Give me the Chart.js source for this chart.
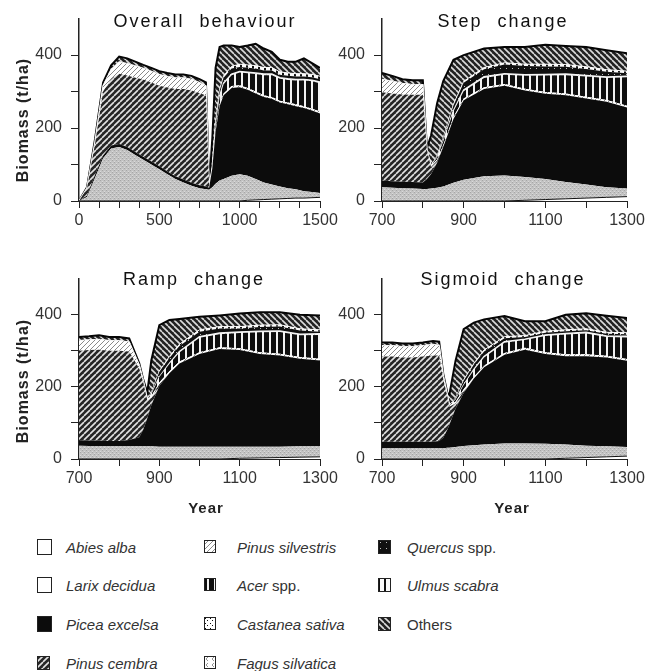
<!DOCTYPE html>
<html><head><meta charset="utf-8">
<script src="https://cdn.jsdelivr.net/npm/chart.js@4.4.1/dist/chart.umd.min.js"></script>
<style>
html,body{margin:0;padding:0;background:#fff;}
body{width:653px;height:671px;position:relative;overflow:hidden;font-family:"Liberation Sans",Arial,sans-serif;color:#222;}
canvas{position:absolute;}
.ttl{position:absolute;font-size:18px;letter-spacing:2px;word-spacing:8px;color:#111;transform:translate(-50%,-50%);white-space:nowrap;}
.ylab{position:absolute;font-size:16px;font-weight:bold;letter-spacing:1px;color:#222;transform:translate(-50%,-50%) rotate(-90deg);white-space:nowrap;}
.xlab{position:absolute;font-size:15px;font-weight:bold;letter-spacing:1px;color:#222;transform:translate(-50%,-50%);white-space:nowrap;}
.lg{position:absolute;font-size:15px;font-style:italic;color:#333;transform:translateY(-50%);white-space:nowrap;}
.lg .up{font-style:normal;}
</style></head>
<body>
<canvas id="c1" width="344" height="240" style="left:0;top:0"></canvas>
<canvas id="c2" width="323" height="240" style="left:330px;top:0"></canvas>
<canvas id="c3" width="344" height="240" style="left:0;top:260px"></canvas>
<canvas id="c4" width="323" height="240" style="left:330px;top:260px"></canvas>
<div class="ttl" style="left:205px;top:21px">Overall behaviour</div>
<div class="ttl" style="left:503px;top:21px">Step change</div>
<div class="ttl" style="left:194px;top:279px">Ramp change</div>
<div class="ttl" style="left:503px;top:279px">Sigmoid change</div>
<div class="ylab" style="left:23px;top:120px">Biomass (t/ha)</div>
<div class="ylab" style="left:23px;top:381px">Biomass (t/ha)</div>
<div class="xlab" style="left:206px;top:507px">Year</div>
<div class="xlab" style="left:512px;top:507px">Year</div>
<div id="legend"></div>
<script>
// ---------- tick lists ----------
const yTicks = [0,100,200,300,400];
const yLabels = [0,200,400];
const xTicks1 = [0,125,250,375,500,625,750,875,1000,1125,1250,1375,1500];
const xLabels1 = [0,500,1000,1500];
const xTicks2 = [700,800,900,1000,1100,1200,1300];
const xLabels2 = [700,900,1100,1300];

// ---------- Overall behaviour ----------
const p1Years = [0,50,100,150,200,250,300,350,400,450,500,550,600,650,700,750,790,810,830,850,875,900,950,1000,1050,1100,1150,1200,1250,1300,1350,1400,1450,1500];
const p1Abies = [0,0,0,0,0,0,0,0,0,0,0,0,0,0,0,0,0,0,0,0,0,0,0,0,2,3,4,5,6,7,8,8,9,10];
const p1Larix = [0,11,64,117,144,148,140,126,113,100,87,73,60,51,42,35,32,31,38,47,56,60,69,73,67,57,47,40,34,28,24,19,16,12];
const p1Picea = [0,4,8,8,8,8,8,8,8,8,8,8,8,8,8,8,8,5,52,143,204,230,241,239,236,235,234,235,230,230,228,228,223,218];
const p1Cembra = [0,20,85,175,183,193,196,204,212,217,221,230,239,248,253,253,249,2,0,0,0,0,0,0,0,0,0,0,0,0,0,0,0,0];
const p1Silvestris = [0,0,5,15,25,32,32,32,30,30,30,30,30,30,30,28,26,0,2,5,5,5,5,5,5,5,5,5,5,5,5,5,5,5];
const p1Acer = [0,0,0,0,0,0,0,0,0,0,0,0,0,0,0,0,0,0,0,10,20,25,30,35,40,48,55,60,60,62,65,70,75,78];
const p1Fagus = [0,0,0,0,0,0,0,0,0,0,0,0,0,0,0,0,0,0,0,0,2,3,3,3,3,3,3,3,3,3,3,3,3,3];
const p1Quercus = [0,0,0,0,0,0,0,0,0,0,0,0,0,0,0,0,0,0,0,10,15,15,15,12,12,12,10,10,8,8,8,8,8,8];
const p1Ulmus = [0,0,0,0,0,0,0,0,0,0,0,0,0,0,0,0,0,0,0,0,3,5,6,8,8,8,8,8,8,8,8,8,8,8];
const p1Others = [0,3,8,10,12,15,15,12,10,10,10,10,10,10,10,10,10,2,82,150,117,83,57,47,53,60,52,43,33,31,33,42,31,23];

// ---------- Step change ----------
const p2Years = [700,725,750,775,800,810,820,835,850,875,900,950,1000,1050,1100,1150,1200,1250,1300];
const p2Abies = [0,0,0,0,0,0,0,0,0,0,0,0,0,2,4,6,8,10,12];
const p2Larix = [38,36,35,34,33,33,34,36,40,50,58,68,70,64,56,46,37,28,22];
const p2Picea = [18,18,18,18,18,27,39,69,108,175,218,239,246,237,234,238,236,234,222];
const p2Cembra = [242,241,239,239,240,80,20,5,0,0,0,0,0,0,0,0,0,0,0];
const p2Silvestris = [35,33,30,28,28,0,3,4,5,5,5,5,5,5,5,5,5,5,5];
const p2Acer = [0,0,0,0,0,0,0,5,10,15,20,25,25,35,45,50,55,60,78];
const p2Fagus = [0,0,0,0,0,0,0,0,0,2,3,4,3,3,3,3,3,3,3];
const p2Quercus = [0,0,0,0,0,0,0,5,10,15,20,20,25,24,22,20,18,14,8];
const p2Ulmus = [0,0,0,0,0,0,0,0,0,3,4,5,5,5,6,6,6,6,6];
const p2Others = [18,15,12,12,12,5,83,144,156,122,72,52,43,47,53,51,54,53,49];

// ---------- Ramp change ----------
const p3Years = [700,725,750,775,800,825,850,860,870,880,900,925,950,1000,1050,1100,1150,1200,1250,1300];
const p3Abies = [0,0,0,0,0,0,0,0,0,0,0,0,0,0,0,2,3,4,5,6];
const p3Larix = [37,36,36,35,35,35,35,35,35,35,34,34,34,34,34,32,31,30,30,29];
const p3Picea = [15,15,15,15,15,18,25,47,78,114,168,204,231,257,271,268,257,253,243,238];
const p3Cembra = [248,251,252,250,250,245,190,130,50,20,5,0,0,0,0,0,0,0,0,0];
const p3Silvestris = [28,28,28,28,28,26,10,5,4,5,5,5,5,5,5,5,5,5,5,5];
const p3Acer = [0,0,0,0,0,0,0,0,0,5,15,20,25,40,36,42,55,60,60,66];
const p3Fagus = [0,0,0,0,0,0,0,0,0,0,0,2,3,3,3,3,3,3,3,3];
const p3Quercus = [0,0,0,0,0,0,0,0,0,5,15,15,15,14,13,10,12,12,10,6];
const p3Ulmus = [0,0,0,0,0,0,0,0,0,0,2,4,5,5,5,5,5,5,5,5];
const p3Others = [10,10,12,10,10,10,5,3,17,89,127,101,70,36,31,36,36,35,39,40];

// ---------- Sigmoid change ----------
const p4Years = [700,725,750,775,800,825,840,850,860,865,880,900,925,950,1000,1050,1100,1150,1200,1250,1300];
const p4Abies = [0,0,0,0,0,0,0,0,0,0,0,0,0,0,0,0,0,2,4,6,8];
const p4Larix = [30,30,30,30,30,30,30,30,31,31,33,36,38,40,43,43,42,38,33,29,25];
const p4Picea = [18,18,18,18,18,18,20,29,50,64,106,147,185,214,246,260,249,245,248,246,239];
const p4Cembra = [236,236,233,233,236,239,237,162,92,50,15,5,0,0,0,0,0,0,0,0,0];
const p4Silvestris = [30,30,30,30,30,30,28,10,5,4,5,5,5,5,5,5,5,5,5,5,5];
const p4Acer = [0,0,0,0,0,0,0,0,0,0,5,12,18,22,28,22,45,55,58,52,60];
const p4Fagus = [0,0,0,0,0,0,0,0,0,0,0,0,2,3,3,2,3,3,3,3,3];
const p4Quercus = [0,0,0,0,0,0,0,0,0,0,5,12,14,14,10,6,6,6,6,6,6];
const p4Ulmus = [0,0,0,0,0,0,0,0,0,0,0,2,3,4,4,4,4,4,4,4,4];
const p4Others = [9,9,9,9,9,10,10,5,5,29,103,141,113,85,57,40,28,42,43,46,41];

// ---------- species (stack order bottom -> top) ----------
const layerKeys  = ['abies','larix','picea','cembra','silvestris','acer','fagus','quercus','ulmus','others'];
const layerNames = ['Abies alba','Larix decidua','Picea excelsa','Pinus cembra','Pinus silvestris','Acer spp.','Fagus silvatica','Quercus spp.','Ulmus scabra','Others'];

function makePattern(kind, ctx){
  const c = document.createElement('canvas');
  const g = c.getContext('2d');
  const diag = (s,bg,fg,lw,dir)=>{
    c.width=c.height=s; g.fillStyle=bg; g.fillRect(0,0,s,s);
    g.strokeStyle=fg; g.lineWidth=lw; g.beginPath();
    for (const k of [-s,0,s]) {
      if (dir>0){ g.moveTo(k,s); g.lineTo(k+s,0); } else { g.moveTo(k,0); g.lineTo(k+s,s); }
    }
    g.stroke();
  };
  switch(kind){
    case 'abies': c.width=c.height=4; g.fillStyle='#fff'; g.fillRect(0,0,4,4); break;
    case 'larix': c.width=c.height=4; g.fillStyle='#c3c3c3'; g.fillRect(0,0,4,4);
      g.fillStyle='#a6a6a6'; g.fillRect(0,0,1,1); g.fillRect(2,2,1,1);
      g.fillStyle='#dadada'; g.fillRect(2,1,1,1); g.fillRect(0,3,1,1); break;
    case 'picea': c.width=c.height=4; g.fillStyle='#0c0c0c'; g.fillRect(0,0,4,4); break;
    case 'cembra': diag(6,'#262626','#e2e2e2',1.6,1); break;
    case 'silvestris': diag(5,'#ffffff','#8a8a8a',1,1); break;
    case 'acer': c.width=7; c.height=4; g.fillStyle='#0e0e0e'; g.fillRect(0,0,7,4); g.fillStyle='#f2f2f2'; g.fillRect(3,0,2,4); break;
    case 'castanea': c.width=c.height=5; g.fillStyle='#fff'; g.fillRect(0,0,5,5); g.fillStyle='#111'; g.fillRect(1,1,1,1); g.fillRect(3,3,1,1); break;
    case 'fagus': c.width=c.height=6; g.fillStyle='#fff'; g.fillRect(0,0,6,6); g.strokeStyle='#777'; g.lineWidth=0.8; g.beginPath(); g.moveTo(4,1); g.lineTo(2,3); g.lineTo(4,5); g.stroke(); break;
    case 'quercus': c.width=c.height=6; g.fillStyle='#101010'; g.fillRect(0,0,6,6); g.fillStyle='#bbb'; g.fillRect(2,2,1,1); break;
    case 'ulmus': c.width=6; c.height=4; g.fillStyle='#fafafa'; g.fillRect(0,0,6,4); g.fillStyle='#111'; g.fillRect(0,0,2,4); break;
    case 'others': diag(6,'#222222','#dcdcdc',1.6,-1); break;
  }
  return ctx.createPattern(c,'repeat');
}

const borderStyle = {
  abies:{c:'#111',w:1}, larix:{c:'#c3c3c3',w:0}, picea:{c:'#0c0c0c',w:0}, cembra:{c:'#222',w:0},
  silvestris:{c:'#eee',w:0}, acer:{c:'#111',w:0}, fagus:{c:'#f4f4f4',w:1.5}, quercus:{c:'#111',w:0},
  ulmus:{c:'#fafafa',w:1}, others:{c:'#050505',w:2}
};

function buildPanel(id, years, bands, xMin, xMax, xTicks, xLabels, yW, padR, xH){
  const canvas = document.getElementById(id);
  const ctx = canvas.getContext('2d');
  const datasets = layerKeys.map((key,i)=>({
    label: layerNames[i],
    data: years.map((yr,j)=>({x:yr, y:bands[i][j]})),
    backgroundColor: makePattern(key, ctx),
    borderColor: borderStyle[key].c,
    borderWidth: borderStyle[key].w,
    fill: i===0 ? 'origin' : '-1',
    pointRadius: 0, tension: 0
  }));
  const tickFont = {family:'"Liberation Sans", Arial, sans-serif', size:16};
  new Chart(ctx, {
    type:'line',
    data:{datasets},
    options:{
      responsive:false, animation:false, events:[],
      layout:{padding:{left:0, top:12, right:padR, bottom:0}},
      plugins:{legend:{display:false}, tooltip:{enabled:false}},
      scales:{
        x:{type:'linear', min:xMin, max:xMax,
           afterBuildTicks:s=>{ s.ticks = xTicks.map(v=>({value:v})); },
           afterFit:s=>{ s.height = xH; },
           ticks:{autoSkip:false, maxRotation:0, padding:3, color:'#333', font:tickFont,
                  callback:v=> xLabels.includes(v) ? String(v) : ''},
           grid:{drawOnChartArea:false, drawTicks:true, tickLength:7, color:'#222', lineWidth:1},
           border:{display:true, color:'#222', width:1}},
        y:{type:'linear', min:0, max:500, stacked:true,
           afterBuildTicks:s=>{ s.ticks = yTicks.map(v=>({value:v})); },
           afterFit:s=>{ s.width = yW; },
           ticks:{autoSkip:false, padding:9, color:'#333', font:tickFont,
                  callback:v=> yLabels.includes(v) ? String(v) : ''},
           grid:{drawOnChartArea:false, drawTicks:true, tickLength:8, color:'#222', lineWidth:1},
           border:{display:true, color:'#222', width:1.5}}
      }
    }
  });
}

buildPanel('c1', p1Years, [p1Abies,p1Larix,p1Picea,p1Cembra,p1Silvestris,p1Acer,p1Fagus,p1Quercus,p1Ulmus,p1Others], 0, 1500, xTicks1, xLabels1, 79, 24, 39);
buildPanel('c2', p2Years, [p2Abies,p2Larix,p2Picea,p2Cembra,p2Silvestris,p2Acer,p2Fagus,p2Quercus,p2Ulmus,p2Others], 700, 1300, xTicks2, xLabels2, 52, 26, 39);
buildPanel('c3', p3Years, [p3Abies,p3Larix,p3Picea,p3Cembra,p3Silvestris,p3Acer,p3Fagus,p3Quercus,p3Ulmus,p3Others], 700, 1300, xTicks2, xLabels2, 79, 24, 41);
buildPanel('c4', p4Years, [p4Abies,p4Larix,p4Picea,p4Cembra,p4Silvestris,p4Acer,p4Fagus,p4Quercus,p4Ulmus,p4Others], 700, 1300, xTicks2, xLabels2, 52, 26, 41);

// ---------- legend ----------
const legendItems = [
  ['Abies alba','abies',37,547,15], ['Larix decidua','abies',37,585,15], ['Picea excelsa','picea',37,624,15], ['Pinus cembra','cembra',37,663,13],
  ['Pinus silvestris','silvestris',204,547,12], ['Acer spp.','acer',204,585,12], ['Castanea sativa','castanea',204,624,12], ['Fagus silvatica','fagus',204,663,12],
  ['Quercus spp.','quercus',378,547,13], ['Ulmus scabra','ulmus',378,585,13], ['Others','others',378,624,13]
];
const textX = {37:66, 204:237, 378:407};
const lg = document.getElementById('legend');
legendItems.forEach(([name,kind,x,y,sz])=>{
  const cv = document.createElement('canvas');
  cv.width = sz; cv.height = sz+1;
  cv.style.left = x+'px'; cv.style.top = (y - Math.round((sz+1)/2))+'px';
  const g = cv.getContext('2d');
  g.fillStyle = makePattern(kind, g); g.fillRect(0,0,sz,sz+1);
  g.strokeStyle = '#222'; g.lineWidth = 1; g.strokeRect(0.5,0.5,sz-1,sz);
  lg.appendChild(cv);
  const d = document.createElement('div');
  d.className = 'lg';
  d.style.left = textX[x]+'px'; d.style.top = y+'px';
  if (name.endsWith(' spp.')) { d.innerHTML = name.replace(' spp.','') + ' <span class="up">spp.</span>'; }
  else if (name==='Others') { d.innerHTML = '<span class="up">Others</span>'; }
  else d.textContent = name;
  lg.appendChild(d);
});
</script>
</body></html>
